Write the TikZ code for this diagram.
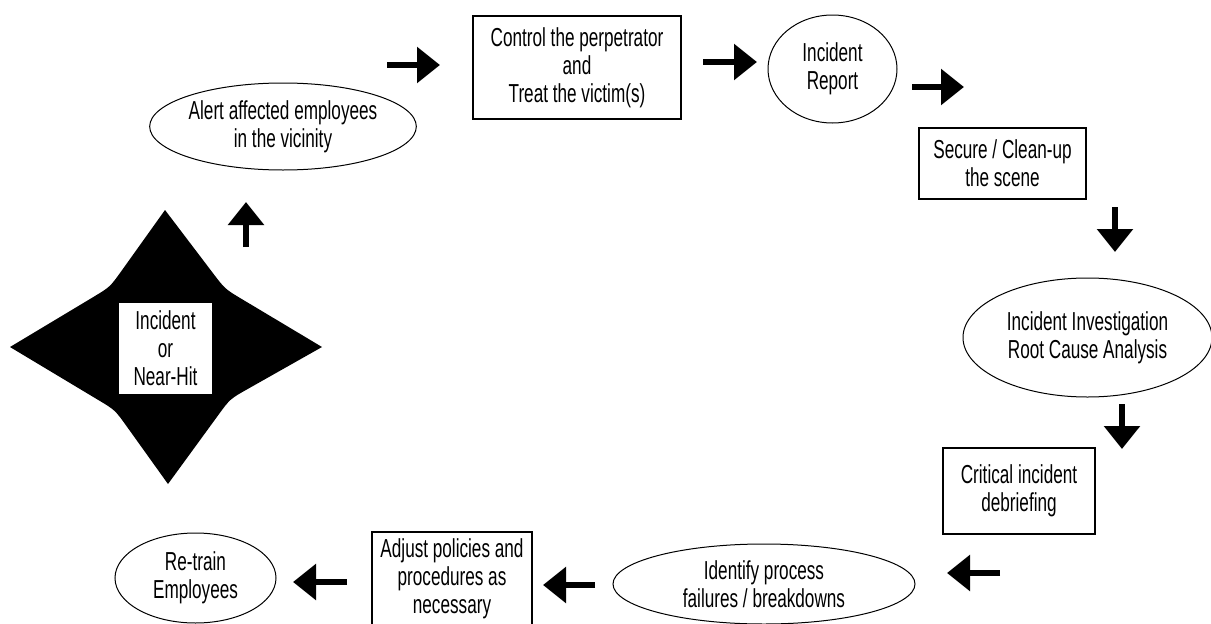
\documentclass[tikz,border=0pt]{standalone}
\usepackage{fontspec}
\setmainfont{Liberation Sans}[FakeStretch=0.66]
\usetikzlibrary{arrows.meta,shapes.geometric,calc}
\begin{document}
\begin{tikzpicture}[x=1pt,y=-1pt,
  lbl/.style={font=\fontsize{26pt}{28pt}\selectfont, align=center, inner sep=0pt},
  boxn/.style={lbl, draw, line width=1.3pt, rectangle},
  ell/.style={lbl, draw, line width=1pt, ellipse},
  barrow/.style={line width=6pt, -{Triangle[width=35pt,length=23pt]}}]
\useasboundingbox (0,0) rectangle (1211,624);

% star
\coordinate (T) at (165,210);
\coordinate (R) at (322,347);
\coordinate (B) at (168,484);
\coordinate (L) at (10,347);
\coordinate (bTR) at (225,289);
\coordinate (bRB) at (230,399);
\coordinate (bBL) at (115,410);
\coordinate (bLT) at (110,287);
\fill (T) -- ($(bTR)!20pt!(T)$) .. controls (bTR) .. ($(bTR)!20pt!(R)$) -- (R)
  -- ($(bRB)!20pt!(R)$) .. controls (bRB) .. ($(bRB)!20pt!(B)$) -- (B)
  -- ($(bBL)!20pt!(B)$) .. controls (bBL) .. ($(bBL)!20pt!(L)$) -- (L)
  -- ($(bLT)!20pt!(L)$) .. controls (bLT) .. ($(bLT)!20pt!(T)$) -- cycle;

\node[lbl, fill=white, minimum width=93pt, minimum height=91pt] (inc) at (165.5,348.5) {Incident\\or\\Near-Hit};

% nodes
\node[ell, minimum width=260pt, minimum height=87pt] (alert) at (283,126.5) {Alert affected employees\\in the vicinity};
\node[boxn, minimum width=208pt, minimum height=103pt] (control) at (577,67.5) {Control the perpetrator\\and\\Treat the victim(s)};
\node[ell, minimum width=129pt, minimum height=108pt] (report) at (832.5,69) {Incident\\Report};
\node[boxn, minimum width=167pt, minimum height=71pt] (secure) at (1002.5,163.5) {Secure / Clean-up\\the scene};
\node[ell, minimum width=249pt, minimum height=119pt] (invest) at (1087.5,337.5) {Incident Investigation\\Root Cause Analysis};
\node[boxn, minimum width=152pt, minimum height=86pt] (critical) at (1019,491) {Critical incident\\debriefing};
\node[ell, minimum width=302pt, minimum height=80pt] (identify) at (764,584) {Identify process\\failures / breakdowns};
\node[boxn, minimum width=160pt, minimum height=94pt] (adjust) at (452,579) {Adjust policies and\\procedures as\\necessary};
\node[ell, minimum width=161pt, minimum height=90pt] (retrain) at (195.5,578) {Re-train\\Employees};

% arrows
\coordinate (u0) at (246,247); \coordinate (u1) at (246,202);
\coordinate (a0) at (387,65);  \coordinate (a1) at (440,65);
\coordinate (b0) at (703,62);  \coordinate (b1) at (757,62);
\coordinate (c0) at (912,87);  \coordinate (c1) at (964,87);
\coordinate (d0) at (1115,207); \coordinate (d1) at (1115,252);
\coordinate (e0) at (1122,404); \coordinate (e1) at (1122,449);
\coordinate (f0) at (1000,573); \coordinate (f1) at (947,573);
\coordinate (g0) at (595,585); \coordinate (g1) at (543,585);
\coordinate (h0) at (347,582); \coordinate (h1) at (293,582);
\foreach \s/\t in {u0/u1,a0/a1,b0/b1,c0/c1,d0/d1,e0/e1,f0/f1,g0/g1,h0/h1}
  \draw[barrow] (\s) -- (\t);
\end{tikzpicture}
\end{document}
